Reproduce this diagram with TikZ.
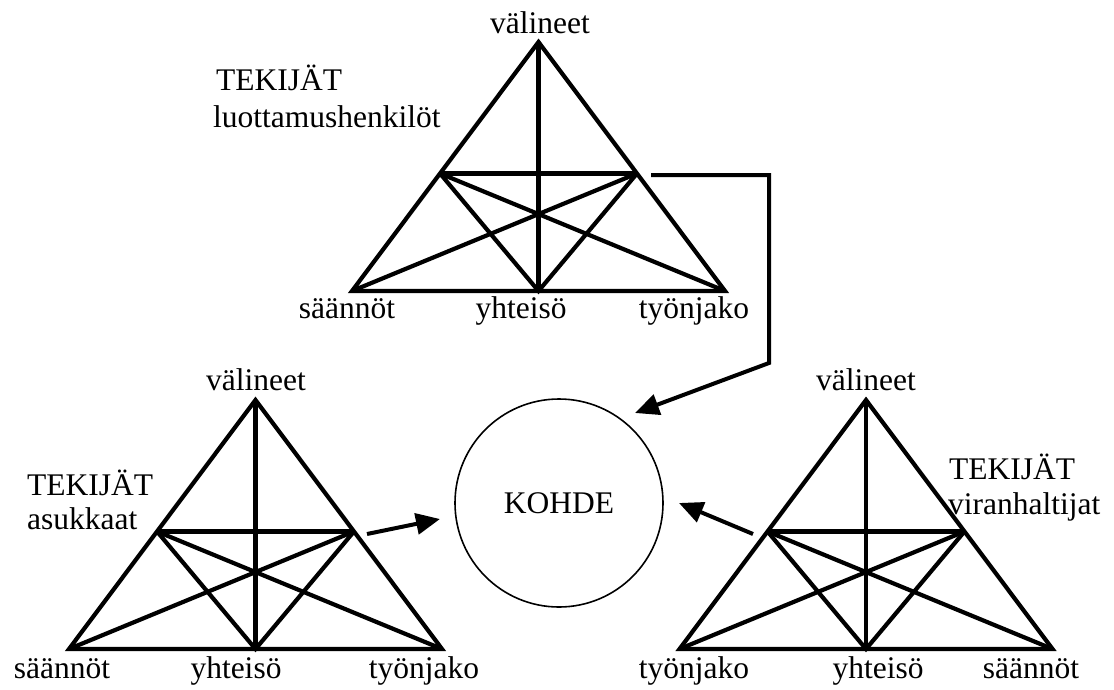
\documentclass[tikz,border=0pt]{standalone}
\usepackage{fontspec}
\setmainfont{Liberation Serif}
\usetikzlibrary{calc,arrows.meta}
\tikzset{
  tri/.style={line width=4.2pt},
  lab/.style={font=\fontsize{31.5}{37}\selectfont, inner sep=0pt},
  conn/.style={line width=4pt, -{Triangle[length=24pt,width=21pt]}},
}
\newcommand{\mytri}[3]{%
  \coordinate (#1A) at (#2,#3);
  \coordinate (#1L) at ($(#1A)+(-186.5,249)$);
  \coordinate (#1R) at ($(#1A)+(186.5,249)$);
  \coordinate (#1M) at ($(#1A)+(0,249)$);
  \coordinate (#1P) at ($(#1A)!0.528!(#1L)$);
  \coordinate (#1Q) at ($(#1A)!0.528!(#1R)$);
  \draw[tri] (#1A) -- (#1L) -- (#1R) -- cycle;
  \draw[tri] (#1A) -- (#1M);
  \draw[tri] (#1P) -- (#1Q);
  \draw[tri] (#1P) -- (#1M) -- (#1Q);
  \draw[tri] (#1P) -- (#1R);
  \draw[tri] (#1Q) -- (#1L);
}
\begin{document}
\begin{tikzpicture}[x=1pt,y=-1pt]
\useasboundingbox (0,0) rectangle (1114,689);
% triangles
\mytri{t}{538.5}{42}
\mytri{l}{255.5}{400}
\mytri{r}{866}{400}
% top triangle labels
\node[lab, anchor=base] (tv) at (540,33) {välineet};
\node[lab, anchor=base west] (tt) at (216,90) {TEKIJÄT};
\node[lab, anchor=base west] (tl) at (213,127) {luottamushenkilöt};
\node[lab, anchor=base] (ts) at (347,318) {säännöt};
\node[lab, anchor=base] (ty) at (521,318) {yhteisö};
\node[lab, anchor=base] (tw) at (694,318) {työnjako};
% left triangle labels
\node[lab, anchor=base] (lv) at (256,390) {välineet};
\node[lab, anchor=base west] (lt) at (27,495) {TEKIJÄT};
\node[lab, anchor=base west] (la) at (27,529) {asukkaat};
\node[lab, anchor=base] (ls) at (62,678) {säännöt};
\node[lab, anchor=base] (ly) at (236,678) {yhteisö};
\node[lab, anchor=base] (lw) at (424,678) {työnjako};
% right triangle labels
\node[lab, anchor=base] (rv) at (866,390) {välineet};
\node[lab, anchor=base west] (rt) at (949,479) {TEKIJÄT};
\node[lab, anchor=base west] (rh) at (948,514) {viranhaltijat};
\node[lab, anchor=base] (rw) at (694,678) {työnjako};
\node[lab, anchor=base] (ry) at (878,678) {yhteisö};
\node[lab, anchor=base] (rs) at (1031,678) {säännöt};
% object
\node[lab, draw, circle, line width=1.6pt, minimum size=208pt] (kohde) at (559,503) {KOHDE};
% connectors
\coordinate (a1s) at (651,175);
\coordinate (a1c) at (769,175);
\coordinate (a1d) at (769,363);
\coordinate (a1e) at (635,413);
\draw[conn] (a1s) -- (a1c) -- (a1d) -- (a1e);
\coordinate (a2s) at (367,534);
\coordinate (a2e) at (440,519);
\draw[conn] (a2s) -- (a2e);
\coordinate (a3s) at (753,534);
\coordinate (a3e) at (679,503);
\draw[conn] (a3s) -- (a3e);
\end{tikzpicture}
\end{document}
